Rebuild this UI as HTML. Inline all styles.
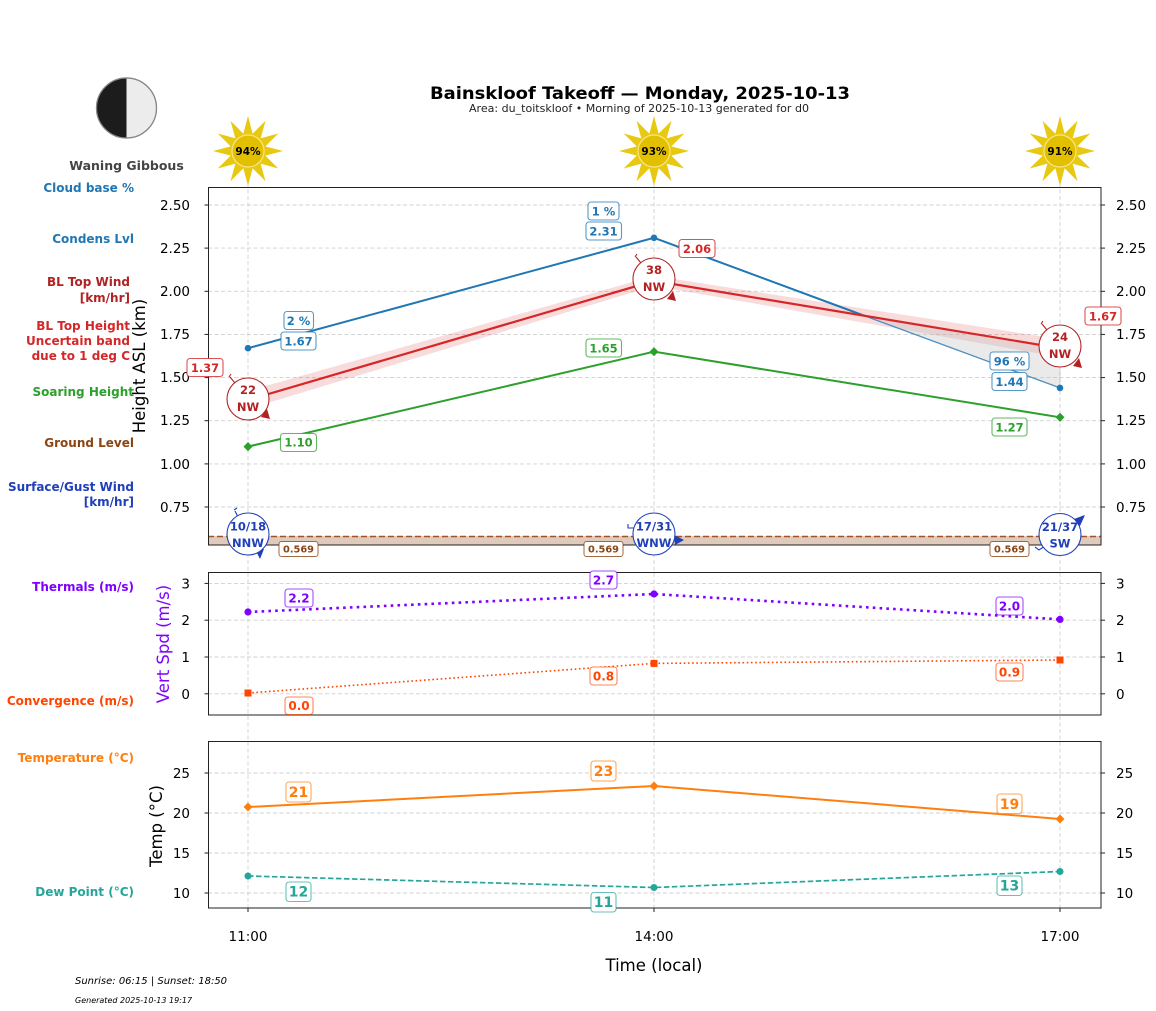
<!DOCTYPE html>
<html><head><meta charset="utf-8"><style>
html,body{margin:0;padding:0;background:#fff;}
svg{display:block;font-family:"DejaVu Sans","Liberation Sans",sans-serif;}
</style></head><body>
<svg width="1156" height="1011" viewBox="0 0 1156 1011" xmlns="http://www.w3.org/2000/svg">
<rect width="1156" height="1011" fill="#fff"/>
<defs>
<g id="sun">
 <g fill="#e8c810">
  <polygon points="0,-35 -6,-12 6,-12"/>
  <polygon points="0,-35 -6,-12 6,-12" transform="rotate(30)"/>
  <polygon points="0,-35 -6,-12 6,-12" transform="rotate(60)"/>
  <polygon points="0,-35 -6,-12 6,-12" transform="rotate(90)"/>
  <polygon points="0,-35 -6,-12 6,-12" transform="rotate(120)"/>
  <polygon points="0,-35 -6,-12 6,-12" transform="rotate(150)"/>
  <polygon points="0,-35 -6,-12 6,-12" transform="rotate(180)"/>
  <polygon points="0,-35 -6,-12 6,-12" transform="rotate(210)"/>
  <polygon points="0,-35 -6,-12 6,-12" transform="rotate(240)"/>
  <polygon points="0,-35 -6,-12 6,-12" transform="rotate(270)"/>
  <polygon points="0,-35 -6,-12 6,-12" transform="rotate(300)"/>
  <polygon points="0,-35 -6,-12 6,-12" transform="rotate(330)"/>
 </g>
 <circle r="16" fill="#e2c000" stroke="#f6e68a" stroke-width="1.2"/>
</g>
</defs>

<!-- Title -->
<text x="640" y="99" text-anchor="middle" font-size="16.5" font-weight="bold" textLength="420" lengthAdjust="spacingAndGlyphs">Bainskloof Takeoff — Monday, 2025-10-13</text>
<text x="639" y="112" text-anchor="middle" font-size="10.5" fill="#222" textLength="340" lengthAdjust="spacingAndGlyphs">Area: du_toitskloof • Morning of 2025-10-13 generated for d0</text>

<!-- Moon -->
<circle cx="126.5" cy="108" r="30" fill="#ececec" stroke="#888" stroke-width="1.2"/>
<path d="M126.5,78 A30,30 0 0 0 126.5,138 Z" fill="#1c1c1c"/>
<circle cx="126.5" cy="108" r="30" fill="none" stroke="#888" stroke-width="1.2"/>
<text x="126.5" y="170" text-anchor="middle" font-size="12.5" font-weight="bold" fill="#444">Waning Gibbous</text>

<!-- Suns -->
<use href="#sun" x="248" y="151"/>
<use href="#sun" x="654" y="151"/>
<use href="#sun" x="1060" y="151"/>
<g font-size="10.5" font-weight="bold" text-anchor="middle">
<text x="248" y="155">94%</text>
<text x="654" y="155">93%</text>
<text x="1060" y="155">91%</text>
</g>

<!-- Left labels -->
<g font-size="12" font-weight="bold" text-anchor="end">
<text x="134" y="192" fill="#1f77b4">Cloud base %</text>
<text x="134" y="243" fill="#1f77b4">Condens Lvl</text>
<text x="130" y="286" fill="#b22222">BL Top Wind</text>
<text x="130" y="302" fill="#b22222">[km/hr]</text>
<text x="130" y="330" fill="#d62728">BL Top Height</text>
<text x="130" y="345" fill="#d62728">Uncertain band</text>
<text x="130" y="360" fill="#d62728">due to 1 deg C</text>
<text x="134" y="396" fill="#2ca02c">Soaring Height</text>
<text x="134" y="447" fill="#8b4513">Ground Level</text>
<text x="134" y="491" fill="#2040b8">Surface/Gust Wind</text>
<text x="134" y="506" fill="#2040b8">[km/hr]</text>
<text x="134" y="591" fill="#7f00ff">Thermals (m/s)</text>
<text x="134" y="705" fill="#ff4500">Convergence (m/s)</text>
<text x="134" y="762" fill="#ff7f0e">Temperature (°C)</text>
<text x="134" y="896" fill="#26a69a">Dew Point (°C)</text>
</g>

<!-- Vertical grid lines across panels -->
<g stroke="#d0d0d0" stroke-width="0.9" stroke-dasharray="4 2.5">
<line x1="248" y1="183" x2="248" y2="908"/>
<line x1="654" y1="183" x2="654" y2="908"/>
<line x1="1060" y1="183" x2="1060" y2="908"/>
</g>

<!-- ============ MAIN PANEL ============ -->
<g stroke="#d0d0d0" stroke-width="0.9" stroke-dasharray="4 2.5">
<line x1="208" y1="205" x2="1101" y2="205"/>
<line x1="208" y1="248.1" x2="1101" y2="248.1"/>
<line x1="208" y1="291.3" x2="1101" y2="291.3"/>
<line x1="208" y1="334.4" x2="1101" y2="334.4"/>
<line x1="208" y1="377.6" x2="1101" y2="377.6"/>
<line x1="208" y1="420.7" x2="1101" y2="420.7"/>
<line x1="208" y1="463.9" x2="1101" y2="463.9"/>
<line x1="208" y1="507" x2="1101" y2="507"/>
</g>

<!-- ground band -->
<rect x="208" y="536" width="893" height="9" fill="#dfcabc"/>
<line x1="208" y1="536.5" x2="1101" y2="536.5" stroke="#a0522d" stroke-width="1.6" stroke-dasharray="6 3"/>

<!-- red uncertainty band -->
<polygon points="248,391 654,275.9 1060,339.2 1060,357.2 654,285.9 248,409" fill="#d62728" fill-opacity="0.16"/>
<!-- grey fill between cloudbase and BL top -->
<polygon points="865,316 1060,348.2 1060,387.9" fill="#c4c4c4" fill-opacity="0.35" stroke="#b0b0b0" stroke-width="0.5"/>

<!-- cloud base line -->
<polyline points="248,348.2 654,237.8 865,316" fill="none" stroke="#1f77b4" stroke-width="2"/>
<line x1="865" y1="316" x2="1060" y2="387.9" stroke="#4a8fc4" stroke-width="1.3"/>
<g fill="#1f77b4">
<circle cx="248" cy="348.2" r="3.3"/><circle cx="654" cy="237.8" r="3.3"/><circle cx="1060" cy="387.9" r="3.3"/>
</g>
<!-- BL top red line -->
<polyline points="248,400 654,280.9 1060,348.2" fill="none" stroke="#d62728" stroke-width="2.2"/>
<!-- soaring green -->
<polyline points="248,446.6 654,351.7 1060,417.3" fill="none" stroke="#2ca02c" stroke-width="2"/>
<g fill="#2ca02c">
<polygon points="248,442 252.5,446.6 248,451.2 243.5,446.6"/>
<polygon points="654,347.1 658.5,351.7 654,356.3 649.5,351.7"/>
<polygon points="1060,412.7 1064.5,417.3 1060,421.9 1055.5,417.3"/>
</g>

<!-- main panel frame -->
<rect x="208.5" y="187.5" width="892.5" height="357.5" fill="none" stroke="#222" stroke-width="1"/>
<!-- ticks -->
<g stroke="#222" stroke-width="1">
<line x1="204.5" y1="205" x2="208.5" y2="205"/><line x1="204.5" y1="248.1" x2="208.5" y2="248.1"/><line x1="204.5" y1="291.3" x2="208.5" y2="291.3"/><line x1="204.5" y1="334.4" x2="208.5" y2="334.4"/><line x1="204.5" y1="377.6" x2="208.5" y2="377.6"/><line x1="204.5" y1="420.7" x2="208.5" y2="420.7"/><line x1="204.5" y1="463.9" x2="208.5" y2="463.9"/><line x1="204.5" y1="507" x2="208.5" y2="507"/>
<line x1="1101" y1="205" x2="1105" y2="205"/><line x1="1101" y1="248.1" x2="1105" y2="248.1"/><line x1="1101" y1="291.3" x2="1105" y2="291.3"/><line x1="1101" y1="334.4" x2="1105" y2="334.4"/><line x1="1101" y1="377.6" x2="1105" y2="377.6"/><line x1="1101" y1="420.7" x2="1105" y2="420.7"/><line x1="1101" y1="463.9" x2="1105" y2="463.9"/><line x1="1101" y1="507" x2="1105" y2="507"/>
</g>
<g font-size="13.5" text-anchor="end">
<text x="190" y="210">2.50</text><text x="190" y="253">2.25</text><text x="190" y="296">2.00</text><text x="190" y="339">1.75</text><text x="190" y="382">1.50</text><text x="190" y="425">1.25</text><text x="190" y="469">1.00</text><text x="190" y="512">0.75</text>
</g>
<g font-size="13.5">
<text x="1116" y="210">2.50</text><text x="1116" y="253">2.25</text><text x="1116" y="296">2.00</text><text x="1116" y="339">1.75</text><text x="1116" y="382">1.50</text><text x="1116" y="425">1.25</text><text x="1116" y="469">1.00</text><text x="1116" y="512">0.75</text>
</g>
<text transform="translate(139,366) rotate(-90)" text-anchor="middle" dy="0.35em" font-size="16.5">Height ASL (km)</text>

<!-- label boxes main -->
<g font-size="11.5" font-weight="bold" text-anchor="middle">
 <g fill="#fff" stroke="#1f77b4" stroke-opacity="0.75" stroke-width="1.1">
  <rect x="284" y="311.5" width="29.5" height="18" rx="3"/>
  <rect x="281" y="332" width="35" height="18" rx="3"/>
  <rect x="588" y="202" width="31" height="18" rx="3"/>
  <rect x="586" y="222" width="35.5" height="18" rx="3"/>
  <rect x="990" y="352" width="39" height="18" rx="3"/>
  <rect x="992" y="372.5" width="35" height="18" rx="3"/>
 </g>
 <g fill="#1f77b4">
  <text x="298.5" y="325">2 %</text>
  <text x="298.5" y="345.5">1.67</text>
  <text x="603.5" y="215.5">1 %</text>
  <text x="603.5" y="235.5">2.31</text>
  <text x="1009.5" y="365.5">96 %</text>
  <text x="1009.5" y="386">1.44</text>
 </g>
 <g fill="#fff" stroke="#d62728" stroke-opacity="0.8" stroke-width="1.1">
  <rect x="187" y="358.5" width="36" height="18" rx="3"/>
  <rect x="679" y="239.5" width="36" height="18" rx="3"/>
  <rect x="1085" y="307" width="36" height="18" rx="3"/>
 </g>
 <g fill="#d62728">
  <text x="205" y="372">1.37</text>
  <text x="697" y="253">2.06</text>
  <text x="1103" y="320.5">1.67</text>
 </g>
 <g fill="#fff" stroke="#2ca02c" stroke-opacity="0.75" stroke-width="1.1">
  <rect x="280.5" y="433.5" width="36" height="18" rx="3"/>
  <rect x="586" y="339" width="35.5" height="18" rx="3"/>
  <rect x="992" y="418" width="35" height="18" rx="3"/>
 </g>
 <g fill="#2ca02c">
  <text x="298.5" y="446.5">1.10</text>
  <text x="603.5" y="352.5">1.65</text>
  <text x="1009.5" y="431.5">1.27</text>
 </g>
</g>
<!-- ground labels -->
<g font-size="9.8" font-weight="bold" text-anchor="middle">
 <g fill="#fff" stroke="#8b4513" stroke-opacity="0.8" stroke-width="1">
  <rect x="279" y="541.5" width="39" height="15" rx="2.5"/>
  <rect x="584" y="541.5" width="39" height="15" rx="2.5"/>
  <rect x="990" y="541.5" width="39" height="15" rx="2.5"/>
 </g>
 <g fill="#8b4513">
  <text x="298.5" y="552.5">0.569</text>
  <text x="603.5" y="552.5">0.569</text>
  <text x="1009.5" y="552.5">0.569</text>
 </g>
</g>

<!-- BL top wind circles -->
<g stroke="#b22222" stroke-width="1.1" fill="none">
 <path d="M229,377 l2,-3 M230,377 l5,6"/>
 <path d="M635,257 l2,-3 M636,257 l5,6"/>
 <path d="M1041,324 l2,-3 M1042,324 l5,6"/>
</g>
<g fill="#b22222">
 <polygon points="270,419 261,417 267,409"/>
 <polygon points="676,301 667,299 673,291"/>
 <polygon points="1082,368 1073,366 1079,358"/>
</g>
<g fill="#fff" stroke="#b22222" stroke-width="1.1">
 <circle cx="248" cy="399" r="21"/>
 <circle cx="654" cy="279" r="21"/>
 <circle cx="1060" cy="346" r="21"/>
</g>
<g font-size="11.5" font-weight="bold" text-anchor="middle" fill="#b22222">
 <text x="248" y="394">22</text><text x="248" y="411">NW</text>
 <text x="654" y="274">38</text><text x="654" y="291">NW</text>
 <text x="1060" y="341">24</text><text x="1060" y="358">NW</text>
</g>

<!-- surface wind circles -->
<g stroke="#2040b8" stroke-width="1.1" fill="none">
 <path d="M234,510 l3,-2 M235,511 l3,6"/>
 <path d="M628,524 l0,4 l6,0"/>
 <path d="M1035,547 l4,3 l6,-4"/>
 <line x1="1072" y1="524" x2="1083" y2="516"/>
</g>
<g fill="#2040b8">
 <polygon points="260,559 256,551 264,549"/>
 <polygon points="684,540 674,535 675,545"/>
 <polygon points="1085,515 1074,519 1080,526"/>
</g>
<g fill="#fff" stroke="#2040b8" stroke-width="1.1">
 <circle cx="248" cy="534" r="21"/>
 <circle cx="654" cy="534" r="21"/>
 <circle cx="1060" cy="534.5" r="21"/>
</g>
<g font-size="11.5" font-weight="bold" text-anchor="middle" fill="#2040b8">
 <text x="248" y="530.5">10/18</text><text x="248" y="547">NNW</text>
 <text x="654" y="530.5">17/31</text><text x="654" y="547">WNW</text>
 <text x="1060" y="531">21/37</text><text x="1060" y="547.5">SW</text>
</g>

<!-- ============ THERMAL PANEL ============ -->
<g stroke="#d0d0d0" stroke-width="0.9" stroke-dasharray="4 2.5">
<line x1="208" y1="583.4" x2="1101" y2="583.4"/>
<line x1="208" y1="620.2" x2="1101" y2="620.2"/>
<line x1="208" y1="657" x2="1101" y2="657"/>
<line x1="208" y1="693.8" x2="1101" y2="693.8"/>
</g>
<polyline points="248,612 654,594 1060,619.4" fill="none" stroke="#7f00ff" stroke-width="2.6" stroke-dasharray="2.6 4.2"/>
<g fill="#7f00ff">
<circle cx="248" cy="612" r="3.6"/><circle cx="654" cy="594" r="3.6"/><circle cx="1060" cy="619.4" r="3.6"/>
</g>
<polyline points="248,693 654,663.4 1060,660" fill="none" stroke="#ff4500" stroke-width="1.6" stroke-dasharray="1.6 2.6"/>
<g fill="#ff4500">
<rect x="244.5" y="689.5" width="7" height="7"/><rect x="650.5" y="659.9" width="7" height="7"/><rect x="1056.5" y="656.5" width="7" height="7"/>
</g>
<rect x="208.5" y="572.5" width="892.5" height="142.5" fill="none" stroke="#222" stroke-width="1"/>
<g stroke="#222" stroke-width="1">
<line x1="204.5" y1="583.4" x2="208.5" y2="583.4"/><line x1="204.5" y1="620.2" x2="208.5" y2="620.2"/><line x1="204.5" y1="657" x2="208.5" y2="657"/><line x1="204.5" y1="693.8" x2="208.5" y2="693.8"/>
<line x1="1101" y1="583.4" x2="1105" y2="583.4"/><line x1="1101" y1="620.2" x2="1105" y2="620.2"/><line x1="1101" y1="657" x2="1105" y2="657"/><line x1="1101" y1="693.8" x2="1105" y2="693.8"/>
</g>
<g font-size="13.5" text-anchor="end">
<text x="190" y="588.5">3</text><text x="190" y="625">2</text><text x="190" y="662">1</text><text x="190" y="699">0</text>
</g>
<g font-size="13.5">
<text x="1116" y="588.5">3</text><text x="1116" y="625">2</text><text x="1116" y="662">1</text><text x="1116" y="699">0</text>
</g>
<text transform="translate(163,644) rotate(-90)" text-anchor="middle" dy="0.35em" font-size="16.5" fill="#7f00ff">Vert Spd (m/s)</text>
<g font-size="12" font-weight="bold" text-anchor="middle">
 <g fill="#fff" stroke="#7f00ff" stroke-opacity="0.7" stroke-width="1.1">
  <rect x="285" y="589" width="28" height="18" rx="3"/>
  <rect x="590" y="571" width="27" height="18" rx="3"/>
  <rect x="996" y="597" width="27" height="18" rx="3"/>
 </g>
 <g fill="#7f00ff">
  <text x="299" y="602.5">2.2</text><text x="603.5" y="584.5">2.7</text><text x="1009.5" y="610.5">2.0</text>
 </g>
 <g fill="#fff" stroke="#ff4500" stroke-opacity="0.65" stroke-width="1.1">
  <rect x="285" y="697" width="28" height="17.5" rx="3"/>
  <rect x="590" y="667" width="27" height="18" rx="3"/>
  <rect x="996" y="663" width="27" height="18" rx="3"/>
 </g>
 <g fill="#ff4500">
  <text x="299" y="710">0.0</text><text x="603.5" y="680.5">0.8</text><text x="1009.5" y="676.5">0.9</text>
 </g>
</g>

<!-- ============ TEMP PANEL ============ -->
<g stroke="#d0d0d0" stroke-width="0.9" stroke-dasharray="4 2.5">
<line x1="208" y1="773" x2="1101" y2="773"/>
<line x1="208" y1="813" x2="1101" y2="813"/>
<line x1="208" y1="853" x2="1101" y2="853"/>
<line x1="208" y1="893" x2="1101" y2="893"/>
</g>
<polyline points="248,807 654,786 1060,819" fill="none" stroke="#ff7f0e" stroke-width="2"/>
<g fill="#ff7f0e">
<polygon points="248,802.5 252.5,807 248,811.5 243.5,807"/>
<polygon points="654,781.5 658.5,786 654,790.5 649.5,786"/>
<polygon points="1060,814.5 1064.5,819 1060,823.5 1055.5,819"/>
</g>
<polyline points="248,876 654,887.5 1060,871.5" fill="none" stroke="#26a69a" stroke-width="1.7" stroke-dasharray="5.5 2.5"/>
<g fill="#26a69a">
<circle cx="248" cy="876" r="3.5"/><circle cx="654" cy="887.5" r="3.5"/><circle cx="1060" cy="871.5" r="3.5"/>
</g>
<rect x="208.5" y="741.5" width="892.5" height="166.5" fill="none" stroke="#222" stroke-width="1"/>
<g stroke="#222" stroke-width="1">
<line x1="204.5" y1="773" x2="208.5" y2="773"/><line x1="204.5" y1="813" x2="208.5" y2="813"/><line x1="204.5" y1="853" x2="208.5" y2="853"/><line x1="204.5" y1="893" x2="208.5" y2="893"/>
<line x1="1101" y1="773" x2="1105" y2="773"/><line x1="1101" y1="813" x2="1105" y2="813"/><line x1="1101" y1="853" x2="1105" y2="853"/><line x1="1101" y1="893" x2="1105" y2="893"/>
<line x1="248" y1="908" x2="248" y2="912"/><line x1="654" y1="908" x2="654" y2="912"/><line x1="1060" y1="908" x2="1060" y2="912"/>
</g>
<g font-size="13.5" text-anchor="end">
<text x="190" y="778">25</text><text x="190" y="818">20</text><text x="190" y="858">15</text><text x="190" y="898">10</text>
</g>
<g font-size="13.5">
<text x="1116" y="778">25</text><text x="1116" y="818">20</text><text x="1116" y="858">15</text><text x="1116" y="898">10</text>
</g>
<text transform="translate(156,826) rotate(-90)" text-anchor="middle" dy="0.35em" font-size="16.5">Temp (°C)</text>
<g font-size="14" font-weight="bold" text-anchor="middle">
 <g fill="#fff" stroke="#ff7f0e" stroke-opacity="0.7" stroke-width="1.1">
  <rect x="286" y="782" width="25" height="20" rx="3"/>
  <rect x="591" y="761" width="25" height="20" rx="3"/>
  <rect x="997" y="794" width="25" height="19.5" rx="3"/>
 </g>
 <g fill="#ff7f0e">
  <text x="298.5" y="797">21</text><text x="603.5" y="776">23</text><text x="1009.5" y="809">19</text>
 </g>
 <g fill="#fff" stroke="#26a69a" stroke-opacity="0.7" stroke-width="1.1">
  <rect x="286" y="882" width="25" height="19.5" rx="3"/>
  <rect x="591" y="892.5" width="25" height="19.5" rx="3"/>
  <rect x="997" y="876" width="25" height="19.5" rx="3"/>
 </g>
 <g fill="#26a69a">
  <text x="298.5" y="896.5">12</text><text x="603.5" y="907">11</text><text x="1009.5" y="890.5">13</text>
 </g>
</g>

<!-- x axis labels -->
<g font-size="13.5" text-anchor="middle">
<text x="248" y="941">11:00</text><text x="654" y="941">14:00</text><text x="1060" y="941">17:00</text>
</g>
<text x="654" y="971" text-anchor="middle" font-size="16.5">Time (local)</text>

<!-- footer -->
<text x="75" y="984" font-size="10" font-style="italic">Sunrise: 06:15 | Sunset: 18:50</text>
<text x="75" y="1003" font-size="8" font-style="italic">Generated 2025-10-13 19:17</text>
</svg>
</body></html>
